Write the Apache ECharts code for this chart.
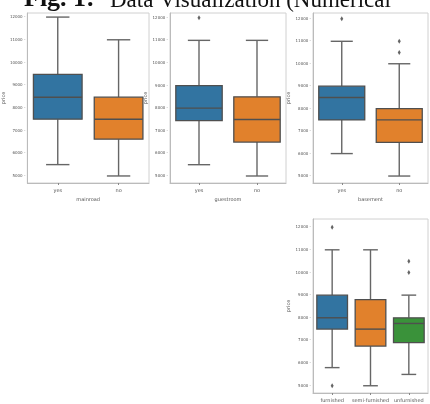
<!DOCTYPE html>
<html>
<head>
<meta charset="utf-8">
<script src="https://cdn.jsdelivr.net/npm/echarts@6/dist/echarts.min.js"></script>
<style>
  html, body { margin: 0; padding: 0; background: #fff; }
  #chart { width: 430px; height: 404px; }
</style>
</head>
<body>
<div id="chart"></div>
<script>
// Categories
const yesNo = ['yes', 'no'];
const furnishing = ['furnished', 'semi-furnished', 'unfurnished'];
// Price tick labels
const priceTicks = [5000, 6000, 7000, 8000, 9000, 10000, 11000, 12000];

// Box summaries per category: [min whisker, Q1, median, Q3, max whisker]
const mainroadBoxes = [[5500, 7500, 8470, 9480, 12000], [5000, 6620, 7500, 8470, 11000]];
const guestroomBoxes = [[5500, 7450, 8000, 9000, 11000], [5000, 6500, 7500, 8500, 11000]];
const basementBoxes = [[6000, 7500, 8500, 9000, 11000], [5000, 6500, 7500, 8000, 10000]];
const furnishingBoxes = [[5800, 7500, 8000, 9000, 11000], [5000, 6750, 7500, 8800, 11000], [5500, 6900, 7750, 8000, 9000]];

// Outliers: [category index, price]
const mainroadOutliers = [];
const guestroomOutliers = [[0, 12000]];
const basementOutliers = [[0, 12000], [1, 11000], [1, 10500]];
const furnishingOutliers = [[0, 12000], [0, 5000], [2, 10500], [2, 10000]];

const palette = ['#3274a1', '#e1812c', '#3a923a'];
const edge = '#4f4f4f';
const whisker = '#666';
const labelColor = '#555';

function renderBox(params, api) {
  const c = api.value(0);
  const pts = [1, 2, 3, 4, 5].map(i => api.coord([c, api.value(i)]));
  const cx = pts[0][0];
  const band = api.size([1, 0])[0];
  const half = band * 0.4;
  const cap = half * 0.48;
  const [pMin, pQ1, pMed, pQ3, pMax] = pts.map(p => p[1]);
  const line = { stroke: whisker, lineWidth: 1.4 };
  return {
    type: 'group',
    children: [
      { type: 'line', shape: { x1: cx, y1: pQ1, x2: cx, y2: pMin }, style: line },
      { type: 'line', shape: { x1: cx, y1: pQ3, x2: cx, y2: pMax }, style: line },
      { type: 'line', shape: { x1: cx - cap, y1: pMin, x2: cx + cap, y2: pMin }, style: line },
      { type: 'line', shape: { x1: cx - cap, y1: pMax, x2: cx + cap, y2: pMax }, style: line },
      { type: 'rect', shape: { x: cx - half, y: pQ3, width: 2 * half, height: pQ1 - pQ3 },
        style: { fill: palette[c], stroke: edge, lineWidth: 1.3 } },
      { type: 'line', shape: { x1: cx - half, y1: pMed, x2: cx + half, y2: pMed }, style: { stroke: edge, lineWidth: 1.4 } }
    ]
  };
}

const panels = [
  { cats: yesNo, boxes: mainroadBoxes, outliers: mainroadOutliers, name: 'mainroad',
    grid: { left: 27, right: 281, top: 13, bottom: 221 }, ymin: 4690, ymax: 12180 },
  { cats: yesNo, boxes: guestroomBoxes, outliers: guestroomOutliers, name: 'guestroom',
    grid: { left: 170, right: 144, top: 13, bottom: 221 }, ymin: 4690, ymax: 12210 },
  { cats: yesNo, boxes: basementBoxes, outliers: basementOutliers, name: 'basement',
    grid: { left: 313, right: 2, top: 13, bottom: 221 }, ymin: 4690, ymax: 12260 },
  { cats: furnishing, boxes: furnishingBoxes, outliers: furnishingOutliers, name: 'furnishingstatus',
    grid: { left: 313, right: 2, top: 219, bottom: 11 }, ymin: 4680, ymax: 12360 }
];

const option = {
  animation: false,
  backgroundColor: '#fff',
  grid: [], xAxis: [], yAxis: [], series: [],
  graphic: [
    { type: 'text', x: 24, y: 12,
      style: { text: 'Fig. 1:', font: 'bold 26px "Liberation Serif"', fill: '#111', verticalAlign: 'bottom' } },
    { type: 'text', x: 110, y: 12,
      style: { text: 'Data Visualization (Numerical', font: '23px "Liberation Serif"', fill: '#111', verticalAlign: 'bottom' } }
  ]
};

panels.forEach((p, i) => {
  option.grid.push(Object.assign({ show: true, borderColor: '#d0d0d0', borderWidth: 1 }, p.grid));
  option.xAxis.push({
    gridIndex: i, type: 'category', data: p.cats, boundaryGap: true,
    name: i < 3 ? p.name : '', nameLocation: 'middle', nameGap: 14,
    nameTextStyle: { fontSize: 5, color: labelColor, fontFamily: 'DejaVu Sans' },
    axisLine: { lineStyle: { color: '#bbb' } },
    axisTick: { show: true, alignWithLabel: true, length: 2, lineStyle: { color: '#888' } },
    axisLabel: { interval: 0, fontSize: 5, color: labelColor, margin: 5, fontFamily: 'DejaVu Sans' },
    splitLine: { show: false }
  });
  option.yAxis.push({
    gridIndex: i, type: 'value', min: p.ymin, max: p.ymax, interval: 10,
    name: 'price', nameLocation: 'middle', nameGap: 14,
    nameTextStyle: { fontSize: 5, color: labelColor, fontFamily: 'DejaVu Sans' },
    axisLine: { show: true, lineStyle: { color: '#bbb' } },
    axisTick: { show: false },
    axisLabel: { fontSize: 4, color: labelColor, margin: 2, fontFamily: 'DejaVu Sans',
      formatter: v => (priceTicks.includes(v) ? String(v) + ' -' : '') },
    splitLine: { show: false }
  });
  option.series.push({
    type: 'custom', xAxisIndex: i, yAxisIndex: i,
    renderItem: renderBox,
    encode: { x: 0, y: [1, 2, 3, 4, 5] },
    data: p.boxes.map((b, c) => [c].concat(b))
  });
  option.series.push({
    type: 'scatter', xAxisIndex: i, yAxisIndex: i,
    symbol: 'diamond', symbolSize: [3, 5],
    itemStyle: { color: '#3f3f3f' },
    data: p.outliers
  });
});

const chart = echarts.init(document.getElementById('chart'), null, { renderer: 'canvas' });
chart.setOption(option);
</script>
</body>
</html>
